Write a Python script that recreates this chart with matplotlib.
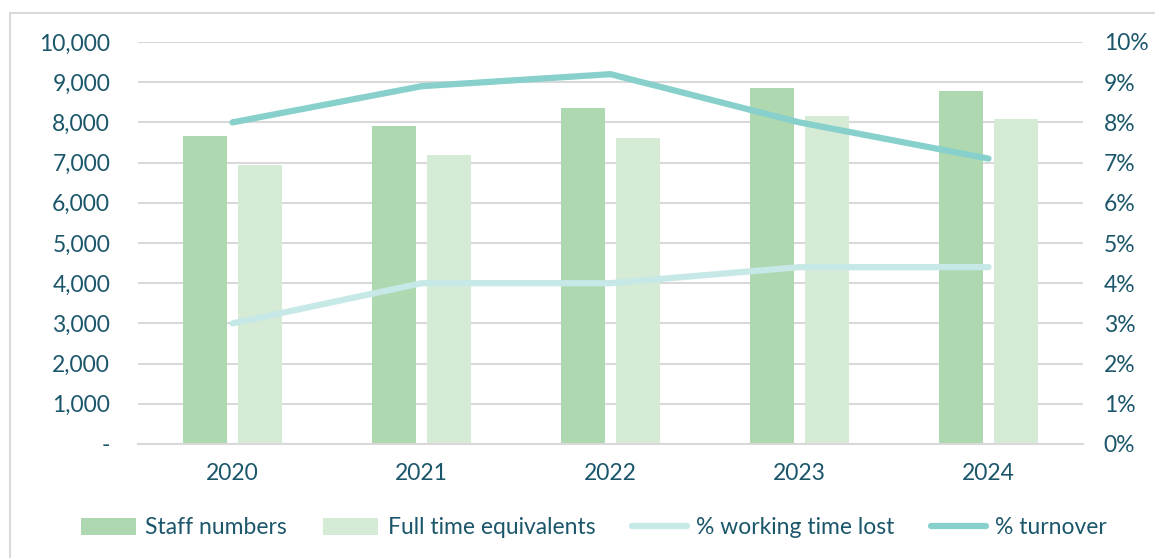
import numpy as np
import matplotlib.pyplot as plt
from matplotlib.patches import Rectangle
from matplotlib.ticker import FuncFormatter

years = ['2020', '2021', '2022', '2023', '2024']
staff = [7650, 7900, 8370, 8850, 8780]
fte = [6950, 7200, 7600, 8150, 8080]
time_lost = [3.0, 4.0, 4.0, 4.4, 4.4]
turnover = [8.0, 8.9, 9.2, 8.0, 7.1]

txt = '#1b566b'
fs = 16.5
plt.rcParams['font.family'] = ['Lato', 'DejaVu Sans']
plt.rcParams['font.size'] = fs

fig = plt.figure(figsize=(11.55, 5.58), dpi=100)
ax = fig.add_axes([138 / 1155, 1 - 444 / 558, 945 / 1155, 402 / 558])
ax2 = ax.twinx()

x = np.arange(len(years))
w = 0.233
ax.bar(x - 0.143, staff, w, color='#aed8b0', label='Staff numbers', zorder=2)
ax.bar(x + 0.143, fte, w, color='#d6ebd6', label='Full time equivalents', zorder=2)
ax2.plot(x, time_lost, color='#c6e8e6', lw=4.5, label='% working time lost', solid_capstyle='round')
ax2.plot(x, turnover, color='#88d0cb', lw=4.5, label='% turnover', solid_capstyle='round')

ax.set_xlim(-0.5, 4.5)
ax.set_ylim(0, 10000)
ax.set_yticks(range(0, 10001, 1000))
ax.yaxis.set_major_formatter(FuncFormatter(lambda v, p: '-' if v == 0 else f'{int(v):,}'))
ax2.set_ylim(0, 10)
ax2.set_yticks(range(0, 11))
ax2.yaxis.set_major_formatter(FuncFormatter(lambda v, p: f'{int(v)}%'))
ax.set_xticks(x)
ax.set_xticklabels(years)

ax.grid(axis='y', color='#d9d9d9', lw=1.5, zorder=0)
ax.set_axisbelow(True)
for a in (ax, ax2):
    for s in a.spines.values():
        s.set_visible(False)
    a.tick_params(length=0, colors=txt, labelsize=fs)
ax.spines['bottom'].set_visible(True)
ax.spines['bottom'].set_color('#d9d9d9')
ax.spines['bottom'].set_linewidth(1.5)
ax.tick_params(axis='y', pad=20)
ax.tick_params(axis='x', pad=14)
ax2.tick_params(axis='y', pad=15)

h1, l1 = ax.get_legend_handles_labels()
h2, l2 = ax2.get_legend_handles_labels()
fig.legend(h1 + h2, l1 + l2, loc='center', bbox_to_anchor=(594 / 1155, 1 - 528 / 558),
           ncol=4, frameon=False, fontsize=fs, labelcolor=txt,
           handlelength=2.4, handletextpad=0.4, columnspacing=1.6)

fig.patches.append(Rectangle((10 / 1155, -0.05), 1.1, 1 - 13 / 558 + 0.05,
                             transform=fig.transFigure, fill=False,
                             edgecolor='#d9d9d9', lw=1.5))

fig.savefig('out.png', dpi=100)
